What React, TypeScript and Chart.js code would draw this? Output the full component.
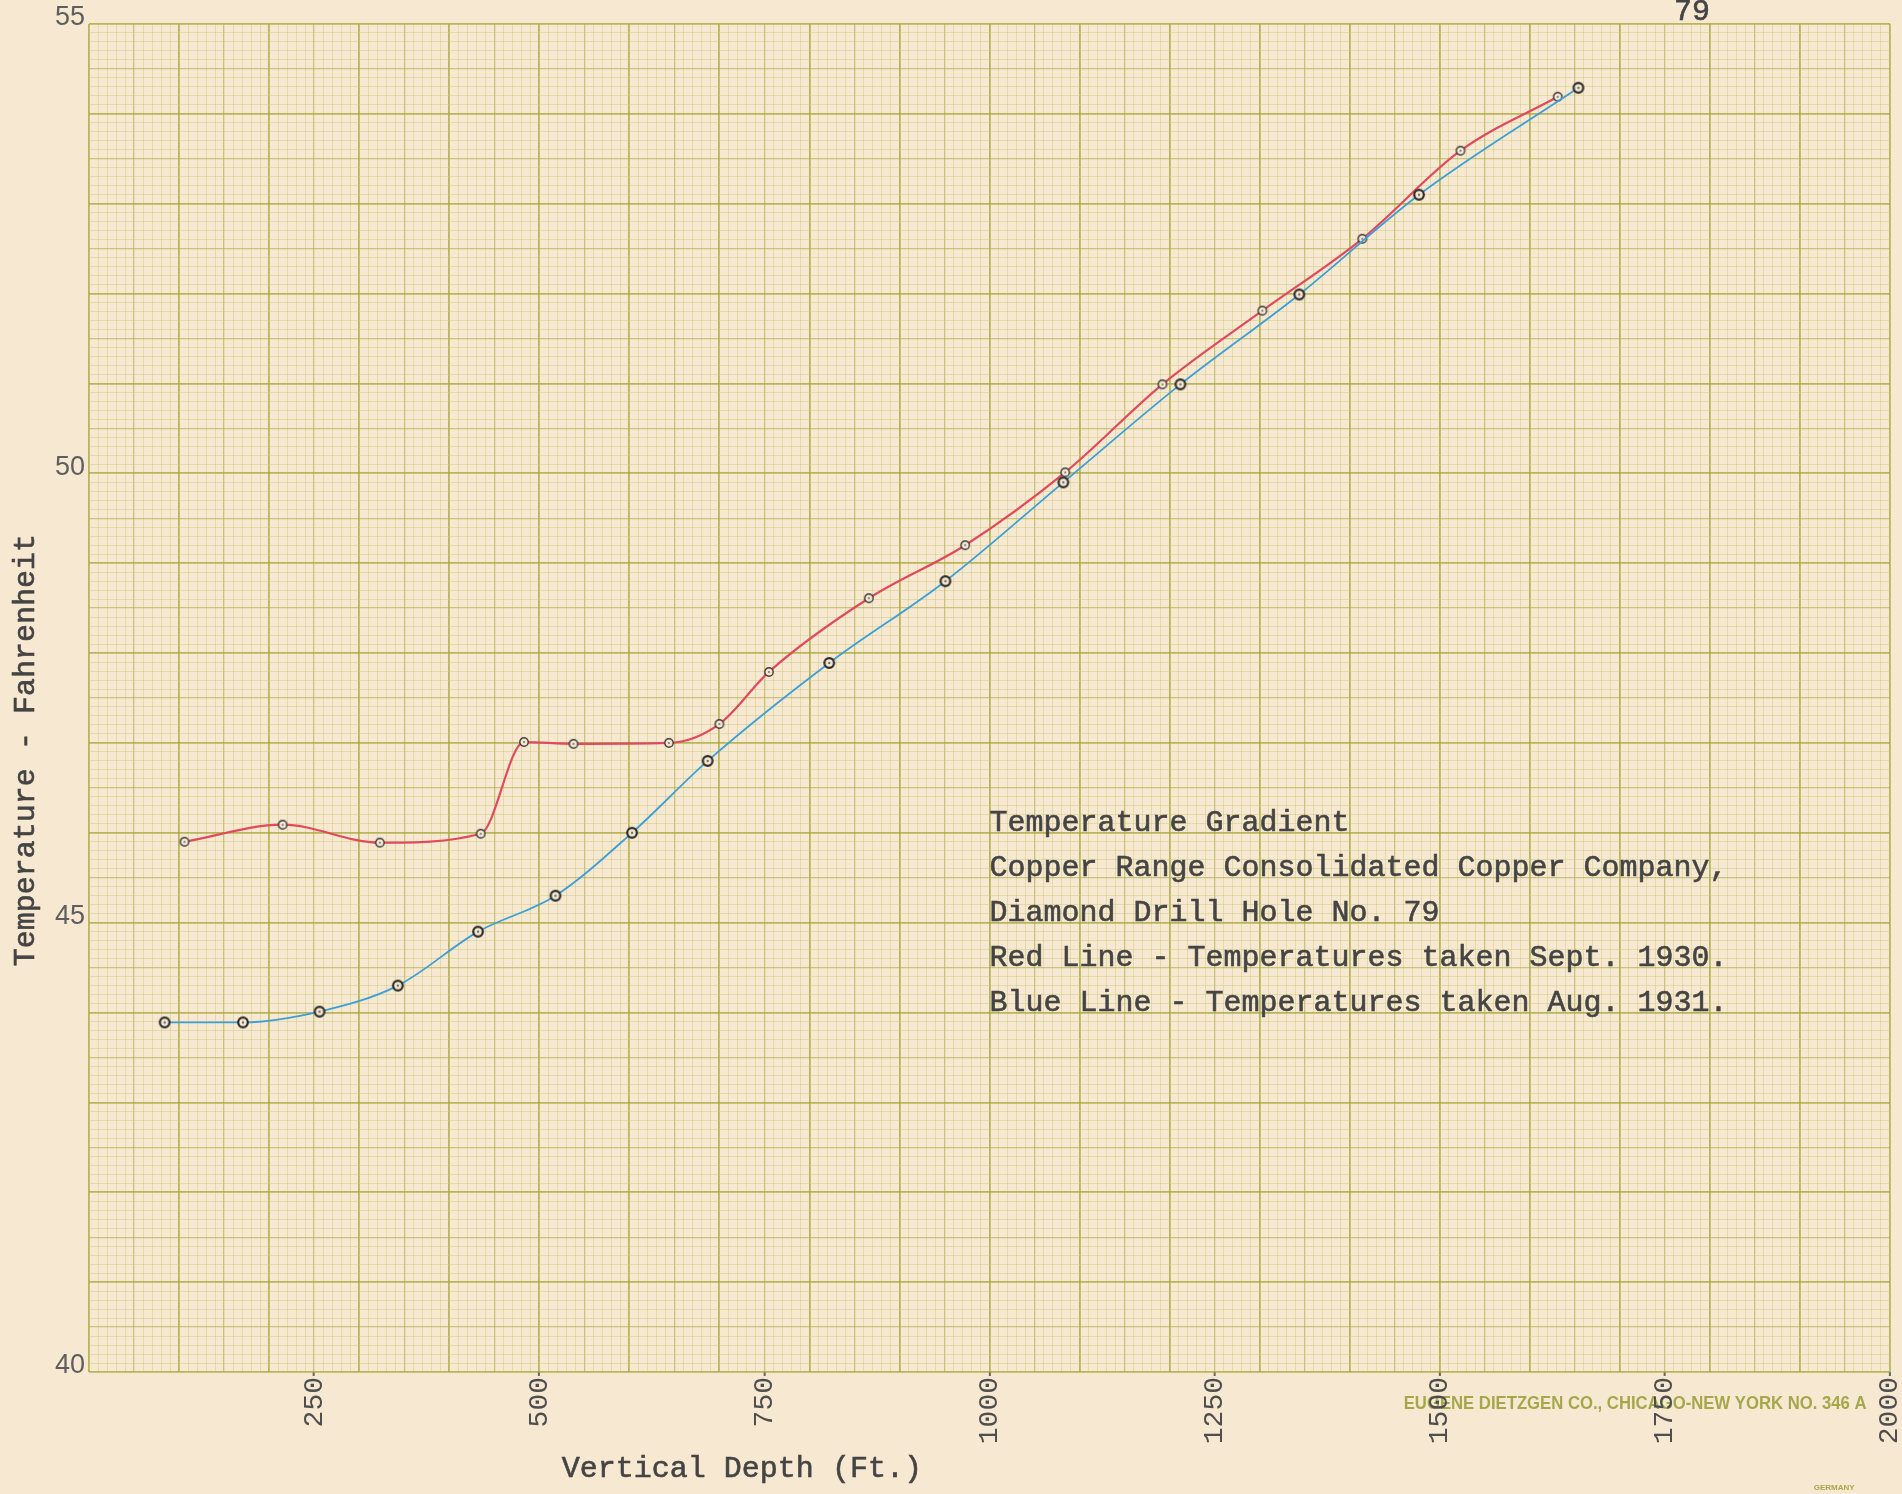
import React, { useEffect, useRef } from "react";
import { Chart, registerables } from "chart.js";

Chart.register(...registerables);

// ---- data ----
const redDepth = [106, 215, 323, 435, 483, 538, 644, 700, 755, 866, 973, 1084, 1192, 1303, 1414, 1523, 1631];
const redTemp = [45.9, 46.09, 45.89, 45.99, 47.01, 46.99, 47.0, 47.21, 47.79, 48.61, 49.2, 50.01, 50.99, 51.81, 52.61, 53.59, 54.19];

const blueDepth = [84, 171, 256, 343, 432, 518, 603, 687, 822, 951, 1082, 1212, 1344, 1477, 1654];
const blueTemp = [43.89, 43.89, 44.01, 44.3, 44.9, 45.3, 46.0, 46.8, 47.89, 48.8, 49.9, 50.99, 51.99, 53.1, 54.29];

const xTickLabels = [250, 500, 750, 1000, 1250, 1500, 1750, 2000];
const yTickLabels = [40, 45, 50, 55];

const noteLines = [
  "Temperature Gradient",
  "Copper Range Consolidated Copper Company,",
  "Diamond Drill Hole No. 79",
  "Red Line - Temperatures taken Sept. 1930.",
  "Blue Line - Temperatures taken Aug. 1931.",
];

const xTitle = "Vertical Depth (Ft.)";
const yTitle = "Temperature - Fahrenheit";
const sheetNumber = "79";
const maker = "EUGENE DIETZGEN CO., CHICAGO-NEW YORK NO. 346 A";
const makerSmall = "GERMANY";

// ---- styles ----
const PAPER = "#f7e8d2";
const INK = "#444444";
const RED = "#e04a5e";
const BLUE = "#3d9fd6";
const GRID_MAJOR = "rgba(165,168,58,0.78)";
const GRID_MED = "rgba(172,175,70,0.62)";
const GRID_MINOR = "rgba(200,198,115,0.42)";
const MAKER_GREEN = "#a5a84a";
const MONO = '"Liberation Mono", "DejaVu Sans Mono", monospace';
const SANS = '"Liberation Sans", "DejaVu Sans", sans-serif';

function makeMarker(r: number, lw: number, dot: number, stroke: string) {
  const size = Math.ceil((r + lw) * 2 + 2);
  const c = document.createElement("canvas");
  c.width = size;
  c.height = size;
  const g = c.getContext("2d")!;
  const m = size / 2;
  g.beginPath();
  g.arc(m, m, r, 0, Math.PI * 2);
  g.fillStyle = PAPER;
  g.fill();
  g.lineWidth = lw;
  g.strokeStyle = stroke;
  g.stroke();
  g.beginPath();
  g.arc(m, m, dot, 0, Math.PI * 2);
  g.fillStyle = "#6a6a6a";
  g.fill();
  return c;
}

function typeText(ctx: CanvasRenderingContext2D, t: string, x: number, y: number) {
  ctx.fillText(t, x, y);
  ctx.strokeText(t, x, y);
}

// printed imprint of the paper maker, drawn beneath the typed axis labels
const imprintPlugin = {
  id: "imprint",
  beforeDraw(chart: any) {
    const { ctx } = chart;
    const x = chart.scales.x;
    const y = chart.scales.y;
    ctx.save();
    ctx.fillStyle = MAKER_GREEN;
    ctx.font = `bold 18px ${SANS}`;
    ctx.textAlign = "left";
    ctx.textBaseline = "alphabetic";
    const x0 = x.getPixelForValue(1460);
    const x1 = x.getPixelForValue(1974);
    const w = ctx.measureText(maker).width;
    ctx.save();
    ctx.translate(x0, y.bottom + 37);
    ctx.scale((x1 - x0) / w, 1);
    ctx.fillText(maker, 0, 0);
    ctx.restore();

    ctx.font = `bold 8px ${SANS}`;
    ctx.textAlign = "center";
    ctx.fillText(makerSmall, x.getPixelForValue(1938), chart.height - 4);
    ctx.restore();
  },
};

const notesPlugin = {
  id: "notes",
  afterDraw(chart: any) {
    const { ctx } = chart;
    const x = chart.scales.x;
    const y = chart.scales.y;
    ctx.save();
    ctx.fillStyle = INK;
    ctx.strokeStyle = INK;
    ctx.lineWidth = 0.6;
    ctx.font = `30px ${MONO}`;
    ctx.textBaseline = "alphabetic";
    ctx.textAlign = "left";
    noteLines.forEach((t, i) => {
      typeText(ctx, t, x.getPixelForValue(1000), y.getPixelForValue(46 - 0.5 * i) - 2);
    });

    // x-axis title
    ctx.textAlign = "center";
    typeText(ctx, xTitle, x.getPixelForValue(725), chart.height - 17);

    // sheet number
    typeText(ctx, sheetNumber, x.getPixelForValue(1780), 20);

    // y-axis title (rotated)
    ctx.save();
    ctx.translate(34, y.getPixelForValue(46.92));
    ctx.rotate(-Math.PI / 2);
    ctx.textAlign = "center";
    typeText(ctx, yTitle, 0, 0);
    ctx.restore();
    ctx.restore();
  },
};

export default function App() {
  const ref = useRef<HTMLCanvasElement>(null);

  useEffect(() => {
    document.body.style.margin = "0";
    document.body.style.background = PAPER;
    const canvas = ref.current!;
    const redMarker = makeMarker(4.2, 1.4, 1.0, "#3a3a3a");
    const blueMarker = makeMarker(4.8, 2.2, 1.2, "#2a2a2a");

    const xGridColor = (c: any) => {
      const v = Math.round(c.tick.value);
      if (v % 100 === 0) return GRID_MAJOR;
      if (v % 50 === 0) return GRID_MED;
      return GRID_MINOR;
    };
    const xGridWidth = (c: any) => {
      const v = Math.round(c.tick.value);
      if (v % 100 === 0) return 1.8;
      if (v % 50 === 0) return 1.3;
      return 1;
    };
    const yGridColor = (c: any) => {
      const k = Math.round(c.tick.value * 10);
      if (k % 10 === 0) return GRID_MAJOR;
      if (k % 5 === 0) return GRID_MED;
      return GRID_MINOR;
    };
    const yGridWidth = (c: any) => {
      const k = Math.round(c.tick.value * 10);
      if (k % 10 === 0) return 1.8;
      if (k % 5 === 0) return 1.3;
      return 1;
    };

    const chart = new Chart(canvas, {
      type: "line",
      data: {
        datasets: [
          {
            label: "Temperatures taken Aug. 1931",
            data: blueDepth.map((d, i) => ({ x: d, y: blueTemp[i] })),
            borderColor: BLUE,
            borderWidth: 1.8,
            cubicInterpolationMode: "monotone",
            pointStyle: blueMarker as any,
            pointRadius: 5,
            fill: false,
          },
          {
            label: "Temperatures taken Sept. 1930",
            data: redDepth.map((d, i) => ({ x: d, y: redTemp[i] })),
            borderColor: RED,
            borderWidth: 2.2,
            cubicInterpolationMode: "monotone",
            pointStyle: redMarker as any,
            pointRadius: 5,
            fill: false,
          },
        ],
      },
      options: {
        responsive: false,
        animation: false,
        devicePixelRatio: 1,
        layout: { padding: { top: 24, right: 12, left: 0, bottom: 0 } },
        plugins: {
          legend: { display: false },
          tooltip: { enabled: false },
          title: { display: false },
        },
        scales: {
          x: {
            type: "linear",
            min: 0,
            max: 2000,
            border: { display: false },
            grid: {
              color: xGridColor,
              lineWidth: xGridWidth,
              drawTicks: true,
              tickLength: 4,
              tickWidth: 2,
              tickColor: (c: any) =>
                xTickLabels.includes(Math.round(c.tick.value)) ? "#666" : "rgba(0,0,0,0)",
            },
            ticks: {
              stepSize: 10,
              autoSkip: false,
              minRotation: 90,
              maxRotation: 90,
              padding: 1,
              color: "#4e4e4e",
              font: { family: MONO, size: 28 },
              callback: (v: any) => {
                const r = Math.round(Number(v));
                return xTickLabels.includes(r) ? String(r) : "";
              },
            },
            afterFit: (s: any) => {
              s.height = 122;
              s.paddingLeft = 0;
              s.paddingRight = 0;
            },
          },
          y: {
            type: "linear",
            min: 40,
            max: 55,
            border: { display: false },
            grid: {
              color: yGridColor,
              lineWidth: yGridWidth,
              drawTicks: true,
              tickLength: 3,
              tickWidth: 2,
              tickColor: "rgba(0,0,0,0)",
            },
            ticks: {
              stepSize: 0.1,
              autoSkip: false,
              padding: 1,
              labelOffset: -6,
              color: "#5e5e5e",
              font: { family: SANS, size: 27 },
              callback: (v: any) => {
                const n = Number(v);
                const r = Math.round(n);
                return Math.abs(n - r) < 1e-6 && yTickLabels.includes(r) ? String(r) : "";
              },
            },
            afterFit: (s: any) => {
              s.width = 89;
              s.paddingTop = 0;
              s.paddingBottom = 0;
            },
          },
        },
      },
      plugins: [imprintPlugin, notesPlugin],
    } as any);

    return () => chart.destroy();
  }, []);

  return (
    <div style={{ position: "absolute", left: 0, top: 0, width: 1902, height: 1494, background: PAPER }}>
      <canvas ref={ref} width={1902} height={1494} style={{ display: "block" }} />
    </div>
  );
}
